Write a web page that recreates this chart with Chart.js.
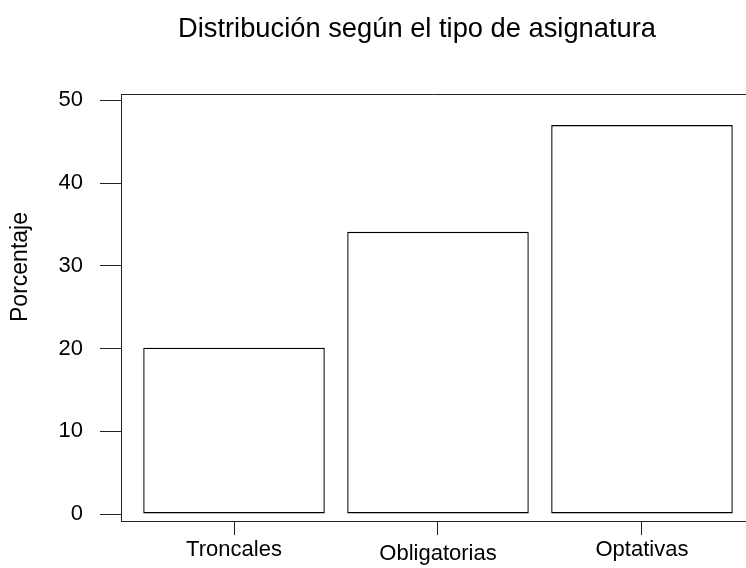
<!DOCTYPE html>
<html>
<head>
<meta charset="utf-8">
<script src="https://cdn.jsdelivr.net/npm/chart.js@4.4.1/dist/chart.umd.min.js"></script>
<style>
  body { margin: 0; background: #fff; }
  canvas { display: block; }
</style>
</head>
<body>
<canvas id="grafico" width="746" height="568"></canvas>
<script>
const titulo = 'Distribución según el tipo de asignatura';
const tituloEjeY = 'Porcentaje';
const categorias = ['Troncales', 'Obligatorias', 'Optativas'];
const porcentajes = [20.1, 34.1, 47.0];
const ticksY = [0, 10, 20, 30, 40, 50];

const fuente = "'Liberation Sans', Arial, sans-serif";

// titulo y etiqueta del eje Y dibujados a mano (no van centrados en el area)
const textos = {
    id: 'textos',
    afterDraw(chart) {
        const c = chart.ctx;
        const area = chart.chartArea;
        c.save();
        // linea superior del marco
        c.strokeStyle = '#222';
        c.lineWidth = 1;
        c.beginPath();
        c.moveTo(area.left, Math.round(area.top) + 0.5);
        c.lineTo(area.right, Math.round(area.top) + 0.5);
        c.stroke();

        c.fillStyle = '#000';
        c.font = '27.3px ' + fuente;
        c.textAlign = 'center';
        c.textBaseline = 'alphabetic';
        c.fillText(titulo, 417, 37);

        c.translate(21, 267);
        c.rotate(-Math.PI / 2);
        c.font = '23px ' + fuente;
        c.textBaseline = 'middle';
        c.fillText(tituloEjeY, 0, 0);
        c.restore();
    }
};

var ctx = document.getElementById('grafico').getContext('2d');
var myChart = new Chart(ctx, {
    type: 'bar',
    data: {
        datasets: [{
            data: porcentajes.map((v, i) => ({ x: i, y: v })),
            backgroundColor: '#fff',
            borderColor: '#000',
            borderWidth: 1.4,
            borderSkipped: false,
            barPercentage: 0.89,
            categoryPercentage: 1
        }]
    },
    options: {
        responsive: false,
        animation: false,
        layout: { padding: { top: 94, left: 0, right: 0, bottom: 0 } },
        plugins: {
            legend: { display: false },
            tooltip: { enabled: false },
            title: { display: false }
        },
        scales: {
            x: {
                type: 'linear',
                min: -0.554,
                max: 2.51,
                offset: false,
                afterBuildTicks: s => { s.ticks = categorias.map((c, i) => ({ value: i })); },
                afterFit: s => { s.height = 47; },
                grid: { offset: false, drawOnChartArea: false, drawTicks: true, tickLength: 14, color: '#222' },
                border: { display: true, color: '#222', width: 1 },
                ticks: {
                    color: '#000',
                    padding: 2,
                    maxRotation: 0,
                    autoSkip: false,
                    font: c => ({ family: fuente, size: 22, lineHeight: c.index === 1 ? 1.52 : 1.2 }),
                    callback: (v, i) => categorias[i]
                }
            },
            y: {
                min: -0.845,
                max: 50.76,
                afterBuildTicks: s => { s.ticks = ticksY.map(v => ({ value: v })); },
                afterFit: s => { s.width = 121; },
                grid: { drawOnChartArea: false, drawTicks: true, tickLength: 21, color: '#222' },
                border: { display: true, color: '#222', width: 1 },
                ticks: {
                    color: '#000',
                    padding: 17,
                    font: { family: fuente, size: 22 },
                    callback: v => String(v)
                }
            }
        }
    },
    plugins: [textos]
});
</script>
</body>
</html>
